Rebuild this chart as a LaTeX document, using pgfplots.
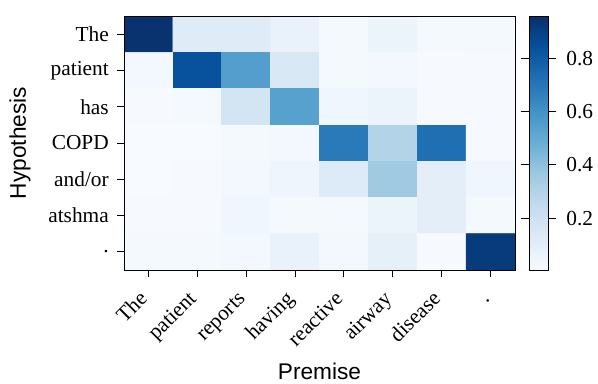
\documentclass[border=0pt]{standalone}
\usepackage{fontspec}
\setmainfont{Liberation Serif}
\newfontfamily\labelfont{Liberation Sans}
\usepackage{pgfplots}
\pgfplotsset{compat=1.18}
\usepackage{pgfplotstable}
\pgfplotsset{colormap={blues}{rgb255=(247,251,255) rgb255=(222,235,247) rgb255=(198,219,239) rgb255=(158,202,225) rgb255=(107,174,214) rgb255=(66,146,198) rgb255=(33,113,181) rgb255=(8,81,156) rgb255=(8,48,107)}}
\pgfplotstableread{
x y c
0 0 0.95
1 0 0.12
2 0 0.12
3 0 0.07
4 0 0.02
5 0 0.06
6 0 0.02
7 0 0.02
0 1 0.03
1 1 0.84
2 1 0.55
3 1 0.15
4 1 0.02
5 1 0.03
6 1 0.01
7 1 0.01
0 2 0.01
1 2 0.02
2 2 0.18
3 2 0.54
4 2 0.04
5 2 0.06
6 2 0.01
7 2 0.01
0 3 0.005
1 3 0.005
2 3 0.02
3 3 0.03
4 3 0.69
5 3 0.30
6 3 0.73
7 3 0.01
0 4 0.005
1 4 0.01
2 4 0.03
3 4 0.05
4 4 0.13
5 4 0.36
6 4 0.10
7 4 0.04
0 5 0.01
1 5 0.01
2 5 0.04
3 5 0.02
4 5 0.02
5 5 0.06
6 5 0.10
7 5 0.02
0 6 0.02
1 6 0.02
2 6 0.03
3 6 0.07
4 6 0.03
5 6 0.09
6 6 0.01
7 6 0.92
}\attn
\begin{document}
\begin{tikzpicture}
\useasboundingbox (0,0) rectangle (448.5pt,287.25pt);
\begin{axis}[
 at={(93pt,84.75pt)}, anchor=south west,
 scale only axis, width=293.25pt, height=190.5pt,
 axis on top,
 xmin=-0.5, xmax=7.5, ymin=-0.5, ymax=6.5, y dir=reverse,
 xtick={0,...,7}, xticklabels={\strut The,\strut patient,\strut reports,\strut having,\strut reactive,\strut airway,\strut disease,\strut .},
 ytick={0,...,6}, yticklabels={The,patient,has,COPD,and/or,atshma,.},
 x tick label style={xshift=-9pt, yshift=-8pt, rotate=45, anchor=north east, inner sep=0pt},
 y tick label style={inner sep=0pt, xshift=-6pt},
 tick align=outside, xtick pos=bottom, ytick pos=left, major tick length=5.25pt,
 tick style={black, line width=0.75pt},
 axis line style={line width=0.75pt},
 tick label style={font=\fontsize{16}{18}\selectfont},
 /pgf/number format/assume math mode=true,
 xlabel=Premise, ylabel=Hypothesis,
 label style={font=\labelfont\fontsize{17}{19}\selectfont},
 xlabel style={at={(axis description cs:0.5,-0.40)}, anchor=center},
 ylabel style={at={(axis description cs:-0.266,0.5)}, anchor=center},
 colormap name=blues, colorbar,
 point meta min=0.005, point meta max=0.96,
 colorbar style={
   at={(parent axis.north east)}, anchor=north west, xshift=2.25pt,
   scale only axis, width=14.25pt, height=190.5pt,
   ytick={0.2,0.4,0.6,0.8},
   yticklabel style={/pgf/number format/fixed, /pgf/number format/fixed zerofill, /pgf/number format/precision=1, font=\fontsize{16}{18}\selectfont, xshift=4pt},
   /pgf/number format/assume math mode=true,
   tick align=outside, major tick length=6pt,
   tick style={black, line width=0.75pt},
   axis line style={line width=0.75pt},
 },
]
\addplot[matrix plot*, mesh/cols=8, point meta=explicit, shader=flat corner] table[x=x, y=y, meta=c] {\attn};
\end{axis}
\end{tikzpicture}
\end{document}
